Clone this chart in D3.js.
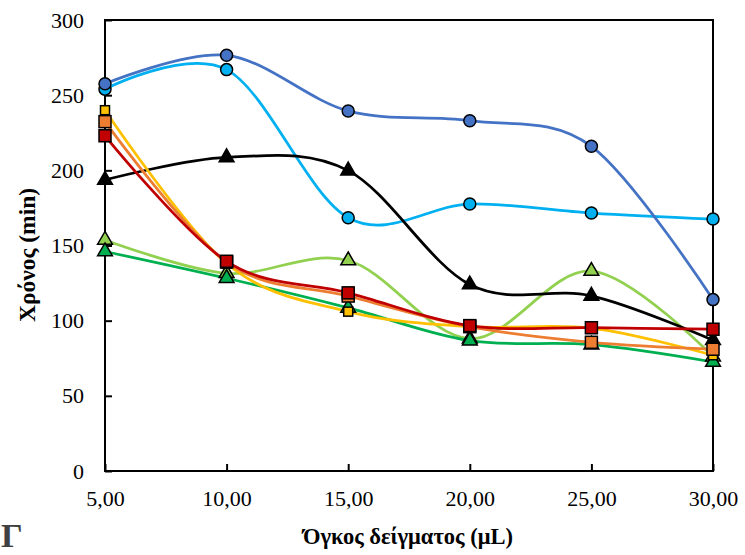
<!DOCTYPE html>
<html>
<head>
<meta charset="utf-8">
<script src="https://cdn.jsdelivr.net/npm/d3@7"></script>
<style>
  html, body { margin: 0; padding: 0; background: #fff; }
  svg { display: block; }
  svg text { font-family: "Liberation Serif", "Times New Roman", Times, serif; }
</style>
</head>
<body>
<svg id="chart" width="745" height="555"></svg>
<script>
// Sample volume (μL) on the x axis
const volumes = [5, 10, 15, 20, 25, 30];
const xTickLabels = ["5,00", "10,00", "15,00", "20,00", "25,00", "30,00"];
const yTicks = [0, 50, 100, 150, 200, 250, 300];

// Time (min) per series
const seriesLightBlue = [254, 267, 168.5, 177.6, 171.6, 167.6];
const seriesBlue      = [257.6, 276.5, 239.5, 233, 216, 114];
const seriesLightGreen = [153.7, 131.5, 140, 88, 133, 76];
const seriesGreen     = [146, 128.2, 108.5, 86.7, 84, 72.5];
const seriesBlack     = [193.6, 208.6, 199.8, 124, 116.5, 87];
const seriesYellow    = [240, 138, 106, 96, 95, 77];
const seriesOrange    = [232.4, 139, 116.4, 96, 85.6, 81];
const seriesRed       = [223, 139.5, 118.5, 96.7, 95.3, 94.3];

const series = [
  { values: seriesLightBlue,  color: "#00B0F0", marker: "circle" },
  { values: seriesBlue,       color: "#4472C4", marker: "circle" },
  { values: seriesLightGreen, color: "#92D050", marker: "triangle" },
  { values: seriesGreen,      color: "#00B050", marker: "triangle" },
  { values: seriesBlack,      color: "#000000", marker: "triangle" },
  { values: seriesYellow,     color: "#FFC000", marker: "smallsquare" },
  { values: seriesOrange,     color: "#ED7D31", marker: "square" },
  { values: seriesRed,        color: "#C00000", marker: "square" }
];

const svg = d3.select("#chart");
const plotLeft = 105, plotRight = 713, plotTop = 20, plotBottom = 471;

const x = d3.scaleLinear().domain([5, 30]).range([plotLeft, plotRight]);
const y = d3.scaleLinear().domain([0, 300]).range([plotBottom, plotTop]);

const serif = "Liberation Serif, Times New Roman, serif";

// Plot frame
svg.append("rect")
  .attr("x", plotLeft).attr("y", plotTop)
  .attr("width", plotRight - plotLeft).attr("height", plotBottom - plotTop)
  .attr("fill", "none").attr("stroke", "#000").attr("stroke-width", 2);

// Axes with inward ticks
const yAxis = d3.axisLeft(y).tickValues(yTicks).tickSize(-7).tickPadding(21)
  .tickFormat(d3.format("d"));
const gy = svg.append("g").attr("transform", `translate(${plotLeft},0)`).call(yAxis);
gy.attr("font-family", null).attr("font-size", null);
gy.select(".domain").remove();
gy.selectAll("line").attr("stroke", "#000").attr("stroke-width", 2);
gy.selectAll("text").style("font-family", serif).style("font-size", "22px").attr("fill", "#000");

const xAxis = d3.axisBottom(x).tickValues(volumes).tickSize(-7).tickPadding(19)
  .tickFormat((d, i) => xTickLabels[i]);
const gx = svg.append("g").attr("transform", `translate(0,${plotBottom})`).call(xAxis);
gx.attr("font-family", null).attr("font-size", null);
gx.select(".domain").remove();
gx.selectAll("line").attr("stroke", "#000").attr("stroke-width", 2);
gx.selectAll("text").style("font-family", serif).style("font-size", "22px").attr("fill", "#000");

// Axis titles
svg.append("text")
  .attr("transform", `translate(35,255) rotate(-90)`)
  .attr("text-anchor", "middle")
  .style("font-family", serif).style("font-weight", "bold").style("font-size", "23.5px")
  .text("Χρόνος (min)");

svg.append("text")
  .attr("x", 408).attr("y", 544)
  .attr("text-anchor", "middle")
  .style("font-family", serif).style("font-weight", "bold").style("font-size", "22.5px")
  .text("Όγκος δείγματος (μL)");

svg.append("text")
  .attr("x", 1).attr("y", 547)
  .style("font-family", serif).style("font-weight", "bold").style("font-size", "34px")
  .attr("fill", "#404040")
  .text("Γ");

// Smoothed lines
const line = d3.line()
  .x((d, i) => x(volumes[i]))
  .y(d => y(d))
  .curve(d3.curveCardinal.tension(0));

const plot = svg.append("g");

series.forEach(s => {
  plot.append("path")
    .datum(s.values)
    .attr("d", line)
    .attr("fill", "none")
    .attr("stroke", s.color)
    .attr("stroke-width", 2.75);
});

const triangle = d3.symbol().type(d3.symbolTriangle).size(95);

series.forEach(s => {
  const g = plot.append("g");
  s.values.forEach((v, i) => {
    const cx = x(volumes[i]), cy = y(v);
    if (s.marker === "circle") {
      g.append("circle").attr("cx", cx).attr("cy", cy).attr("r", 6)
        .attr("fill", s.color).attr("stroke", "#000").attr("stroke-width", 1.5);
    } else if (s.marker === "square" || s.marker === "smallsquare") {
      const sz = s.marker === "square" ? 12 : 9;
      g.append("rect").attr("x", cx - sz / 2).attr("y", cy - sz / 2)
        .attr("width", sz).attr("height", sz)
        .attr("fill", s.color).attr("stroke", "#000").attr("stroke-width", 1.5);
    } else {
      g.append("path").attr("d", triangle)
        .attr("transform", `translate(${cx},${cy})`)
        .attr("fill", s.color).attr("stroke", "#000").attr("stroke-width", 1.5);
    }
  });
});
</script>
</body>
</html>
